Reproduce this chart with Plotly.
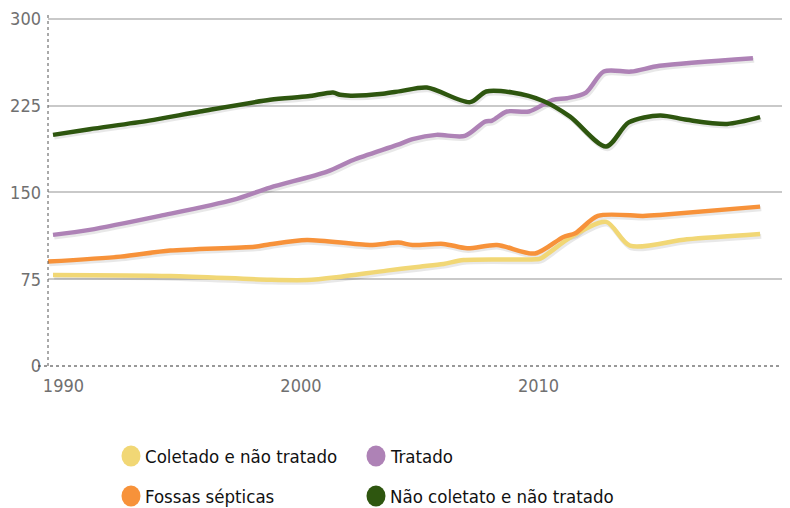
import plotly.graph_objects as go

# values (x in years, y in the chart's units)
coletado_x = [1989.56, 1994.5, 1998.7, 2000.25, 2001.5, 2003.6, 2005.0, 2006.0, 2006.85,
              2009.9, 2010.1, 2011.4, 2012.85, 2013.85, 2016.25, 2019.33]
coletado_y = [78.7, 77.8, 74.5, 74.3, 76.7, 82.4, 85.8, 88.2, 91.6,
              92.2, 93.0, 111.8, 124.5, 104.0, 109.5, 114.1]

tratado_x = [1989.56, 1991.1, 1994.06, 1997.14, 1998.7, 2001.1, 2002.2, 2004.05, 2004.7,
             2005.7, 2006.9, 2007.75, 2008.05, 2008.67, 2009.6, 2010.6, 2011.2, 2012.0,
             2012.75, 2013.9, 2015.1, 2019.03]
tratado_y = [113.3, 117.6, 129.7, 143.5, 154.2, 168.0, 178.0, 191.0, 196.0,
             199.7, 198.8, 211.2, 212.1, 219.9, 219.9, 230.0, 231.4, 236.3,
             254.4, 254.4, 259.4, 266.0]

fossas_x = [1989.35, 1992.4, 1994.5, 1998.05, 1998.7, 2000.25, 2002.9, 2004.1, 2004.7,
            2006.0, 2007.0, 2008.25, 2009.85, 2011.05, 2011.55, 2012.5, 2014.4, 2015.1, 2019.33]
fossas_y = [90.2, 94.5, 99.7, 103.1, 105.2, 108.9, 104.6, 106.6, 104.5,
            105.5, 101.7, 104.6, 97.2, 111.5, 114.7, 129.7, 129.7, 130.5, 137.7]

nao_coletado_x = [1989.56, 1991.1, 1993.6, 1995.75, 1998.7, 2000.3, 2001.35, 2001.65, 2002.1,
                  2003.45, 2004.2, 2005.3, 2007.12, 2007.8, 2008.9, 2010.2, 2011.33, 2012.85,
                  2013.8, 2015.12, 2016.25, 2017.94, 2019.33]
nao_coletado_y = [199.7, 204.6, 212.0, 219.9, 230.0, 233.0, 236.3, 234.3, 233.6,
                  235.2, 237.5, 240.6, 228.0, 237.2, 236.3, 229.0, 215.5, 189.6,
                  210.5, 216.5, 212.7, 209.2, 215.0]

series = [
    ("Coletado e não tratado", coletado_x, coletado_y, "#f1d775"),
    ("Tratado", tratado_x, tratado_y, "#ae82b6"),
    ("Fossas sépticas", fossas_x, fossas_y, "#f7923a"),
    ("Não coletato e não tratado", nao_coletado_x, nao_coletado_y, "#2e560f"),
]

y_ticks = [0, 75, 150, 225, 300]
x_ticks = [1990, 2000, 2010, 2020]

X_RANGE = [1989.35, 2020.59]
Y_RANGE = [0, 305]
# the page body keeps its default 8px margin, so the figure is 8px smaller
WIDTH, HEIGHT = 782, 500
MARGIN = dict(l=40, r=0, t=5, b=142)
plot_w = WIDTH - MARGIN["l"] - MARGIN["r"]
plot_h = HEIGHT - MARGIN["t"] - MARGIN["b"]
x_per_px = (X_RANGE[1] - X_RANGE[0]) / plot_w
y_per_px = (Y_RANGE[1] - Y_RANGE[0]) / plot_h

FONT = "Liberation Sans Narrow, Arial Narrow, DejaVu Sans Condensed, sans-serif"

fig = go.Figure()

# soft drop shadow: same data on axes shifted by a couple of pixels
for name, xs, ys, color in series:
    fig.add_trace(
        go.Scatter(
            x=xs, y=ys, mode="lines", showlegend=False, hoverinfo="skip",
            line=dict(color="rgba(0,0,0,0.09)", width=5, shape="spline", smoothing=0.8),
            xaxis="x", yaxis="y",
        )
    )

for name, xs, ys, color in series:
    fig.add_trace(
        go.Scatter(
            x=xs, y=ys, mode="lines", name=name, showlegend=False,
            line=dict(color=color, width=4.5, shape="spline", smoothing=0.8),
            xaxis="x2", yaxis="y2",
        )
    )

fig.update_layout(
    width=WIDTH,
    height=HEIGHT,
    margin=MARGIN,
    paper_bgcolor="white",
    plot_bgcolor="white",
    font=dict(family=FONT, color="#707070", size=18),
    xaxis=dict(
        range=[X_RANGE[0] - 1.2 * x_per_px, X_RANGE[1] - 1.2 * x_per_px],
        visible=False,
    ),
    yaxis=dict(
        range=[Y_RANGE[0] + 2.2 * y_per_px, Y_RANGE[1] + 2.2 * y_per_px],
        visible=False,
    ),
    xaxis2=dict(
        range=X_RANGE, overlaying="x", anchor="y2", automargin=False,
        tickmode="array", tickvals=x_ticks, showgrid=False, zeroline=False,
        showline=False, ticks="", ticklabelstandoff=7,
    ),
    yaxis2=dict(
        range=Y_RANGE, overlaying="y", anchor="x2", automargin=False,
        tickmode="array", tickvals=y_ticks, showgrid=True,
        gridcolor="#c9c9c9", gridwidth=1.5, zeroline=False,
        showline=False, ticks="", ticklabelstandoff=6,
    ),
)

# dotted axis lines
fig.add_shape(type="line", xref="paper", yref="paper", x0=0, x1=0, y0=0, y1=1,
              line=dict(color="#555555", width=1, dash="dot"), layer="above")
fig.add_shape(type="line", xref="paper", yref="paper", x0=-10 / plot_w, x1=1, y0=0, y1=0,
              line=dict(color="#333333", width=1, dash="dot"), layer="above")

# legend drawn as circles + labels, two columns
legend_cols = [123, 368]
legend_rows = [448, 488]
for i, (name, xs, ys, color) in enumerate(series):
    cx = (legend_cols[i % 2] - MARGIN["l"]) / plot_w
    cy = -(legend_rows[i // 2] - MARGIN["t"] - plot_h) / plot_h
    fig.add_shape(
        type="circle", xref="paper", yref="paper",
        xsizemode="pixel", ysizemode="pixel", xanchor=cx, yanchor=cy,
        x0=-9.5, x1=9.5, y0=-10.5, y1=10.5,
        fillcolor=color, line=dict(width=0),
    )
    fig.add_annotation(
        x=cx, y=cy, xref="paper", yref="paper", xshift=12,
        text=name, showarrow=False, xanchor="left", yanchor="middle",
        font=dict(family=FONT, size=18.5, color="#111111"),
    )

fig.write_html("out.html")
